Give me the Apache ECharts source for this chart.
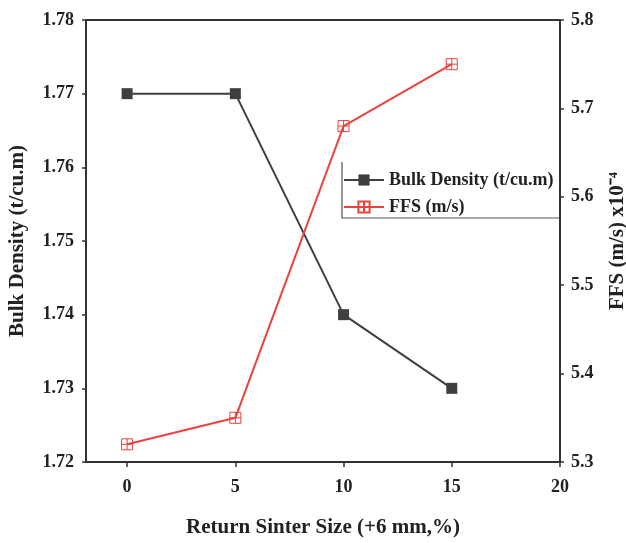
<!DOCTYPE html>
<html>
<head>
<meta charset="utf-8">
<script src="https://cdn.jsdelivr.net/npm/echarts@6/dist/echarts.min.js"></script>
<style>
  html, body { margin: 0; padding: 0; background: #fff; }
  #chart { width: 626px; height: 543px; }
</style>
</head>
<body>
<div id="chart"></div>
<script>
// Return sinter size (+6 mm, %)
const sinterSize = [0, 5, 10, 15];
// Bulk density (t/cu.m)
const bulkDensity = [1.77, 1.77, 1.74, 1.73];
// Flame front speed (m/s) x10^-4
const ffs = [5.32, 5.35, 5.68, 5.75];
// Tick labels
const xTicks = [0, 5, 10, 15, 20];

const FONT = '"Liberation Serif", "Times New Roman", serif';
const labelStyle = { fontFamily: FONT, fontWeight: 'bold', fontSize: 18, color: '#222' };
const nameStyle = { fontFamily: FONT, fontWeight: 'bold', fontSize: 21, color: '#222' };
const AXIS = '#333';

const chart = echarts.init(document.getElementById('chart'), null, { renderer: 'canvas' });

chart.setOption({
  backgroundColor: '#fff',
  animation: false,
  grid: { left: 86, right: 66, top: 20, bottom: 81, containLabel: false, outerBoundsMode: 'none' },
  legend: {
    left: 343, top: 171,
    orient: 'vertical',
    itemGap: 9,
    itemWidth: 40, itemHeight: 14,
    padding: 0,
    borderWidth: 0,
    textStyle: { fontFamily: FONT, fontWeight: 'bold', fontSize: 18, lineHeight: 18, color: '#222' },
    data: ['Bulk Density (t/cu.m)', 'FFS (m/s)']
  },
  graphic: [
    {
      // left and bottom edges of the legend box
      type: 'polyline', silent: true,
      shape: { points: [[342, 162], [342, 218], [559, 218]] },
      style: { stroke: '#555', lineWidth: 1.2, fill: null }
    }
  ],
  xAxis: {
    type: 'value', min: -1.9, max: 20,
    name: 'Return Sinter Size (+6 mm,%)',
    nameLocation: 'middle', nameGap: 55,
    nameTextStyle: nameStyle,
    axisLine: { show: true, onZero: false, lineStyle: { color: AXIS, width: 2 } },
    axisTick: { show: true, customValues: xTicks, length: 5, lineStyle: { color: AXIS, width: 1.5 } },
    axisLabel: { customValues: xTicks, margin: 16, ...labelStyle },
    splitLine: { show: false }
  },
  yAxis: [
    {
      type: 'value', min: 1.72, max: 1.78, interval: 0.01, position: 'left',
      name: 'Bulk Density (t/cu.m)',
      nameLocation: 'middle', nameGap: 58, nameRotate: 90,
      nameTextStyle: nameStyle,
      axisLine: { show: true, onZero: false, lineStyle: { color: AXIS, width: 2 } },
      axisTick: { show: true, length: 4, lineStyle: { color: AXIS, width: 1.5 } },
      axisLabel: { margin: 12, formatter: v => v.toFixed(2), ...labelStyle },
      splitLine: { show: false }
    },
    {
      type: 'value', min: 5.3, max: 5.8, interval: 0.1, position: 'right',
      name: 'FFS (m/s) x10⁻⁴',
      nameLocation: 'middle', nameGap: 47, nameRotate: 90,
      nameTextStyle: nameStyle,
      axisLine: { show: true, onZero: false, lineStyle: { color: AXIS, width: 2 } },
      axisTick: { show: true, length: 4, lineStyle: { color: AXIS, width: 1.5 } },
      axisLabel: { margin: 11, formatter: v => v.toFixed(1), ...labelStyle },
      splitLine: { show: false }
    },
    {
      // helper scale for the top frame edge
      type: 'value', min: 0, max: 1, show: false
    }
  ],
  series: [
    {
      name: 'Bulk Density (t/cu.m)', type: 'line', yAxisIndex: 0,
      data: sinterSize.map((x, i) => [x, bulkDensity[i]]),
      symbol: 'rect', symbolSize: 11,
      itemStyle: { color: '#3f3f3f' },
      lineStyle: { color: '#3f3f3f', width: 2 }
    },
    {
      name: 'FFS (m/s)', type: 'line', yAxisIndex: 1,
      data: sinterSize.map((x, i) => [x, ffs[i]]),
      symbol: 'path://M0,0H10V10H0Z M5,0V10 M0,5H10', symbolSize: 11,
      symbolKeepAspect: true,
      itemStyle: { color: 'rgba(255,255,255,0)', borderColor: '#e8433f', borderWidth: 1 },
      lineStyle: { color: '#e8433f', width: 2 }
    },
    {
      // top edge of the plot frame
      name: 'frame', type: 'line', yAxisIndex: 2,
      data: [[-1.9, 1], [20, 1]],
      symbol: 'none', silent: true,
      lineStyle: { color: AXIS, width: 2 }
    }
  ]
});
</script>
</body>
</html>
